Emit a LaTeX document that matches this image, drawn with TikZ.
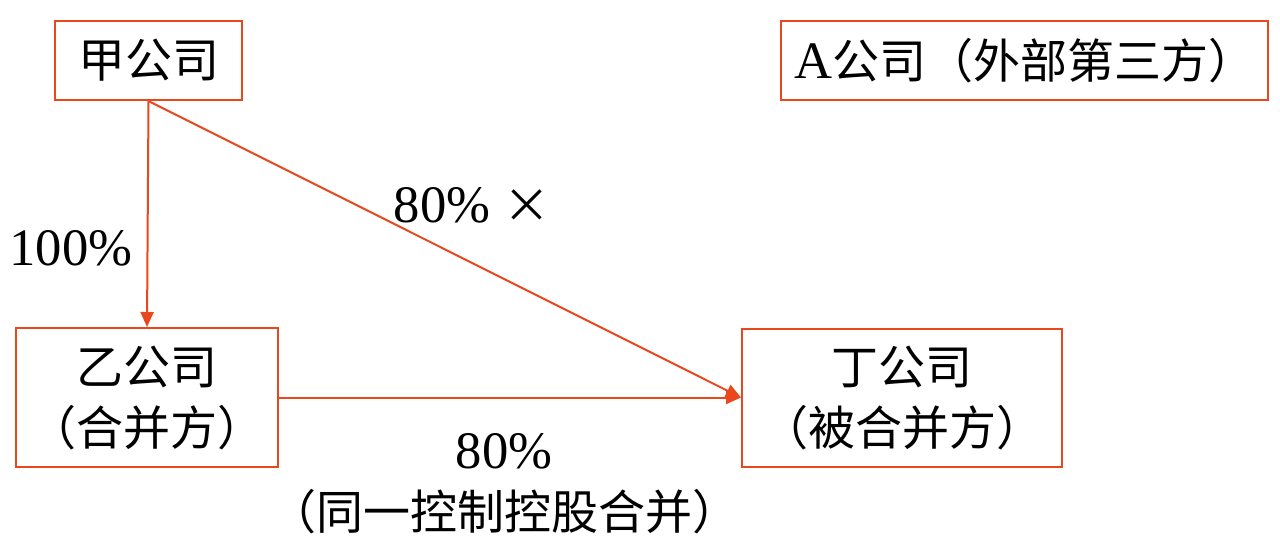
\documentclass[tikz,border=0pt]{standalone}
\usepackage{fontspec}
\setmainfont{Liberation Serif}[Scale=1.12]
\newfontfamily\cjk{Noto Sans CJK SC}
\usetikzlibrary{arrows.meta}
\definecolor{linered}{RGB}{233,72,30}

\begin{document}
\begin{tikzpicture}[x=0.5pt, y=-0.5pt, line width=1pt,
    box/.style={draw=linered, inner sep=0pt, align=center,
      font=\fontsize{23.5pt}{30.5pt}\selectfont},
    lbl/.style={inner sep=0pt, align=center,
      font=\fontsize{23.5pt}{30.5pt}\selectfont},
    arr/.style={draw=linered, -{Triangle[length=7.5pt, width=6.5pt]}}]
  \useasboundingbox (0,0) rectangle (1280,548);

  \node[box, minimum width=93.5pt, minimum height=39.5pt] (jia) at (148.5,60.5) {\cjk 甲公司};
  \node[box, minimum width=243.5pt, minimum height=39.5pt] (acomp) at (1024.5,60.5) {A{\cjk 公司（外部第三方）}};
  \node[box, minimum width=131pt, minimum height=69.5pt] (yi) at (147,397.5) {{\cjk 乙公司}\\{\cjk （合并方）}};
  \node[box, minimum width=160pt, minimum height=69pt] (ding) at (902,397.5) {{\cjk 丁公司}\\{\cjk （被合并方）}};

  \draw[arr] (jia.south) -- (yi.north);
  \draw[arr] (jia.south) -- (ding.west);
  \draw[arr] (yi.east) -- (ding.west);

  \node[lbl] (full) at (71,248) {100\%};
  \node[lbl] (cross) at (472,205) {80\% {\cjk ×}};
  \node[lbl] (ctrl) at (504,484) {80\%\\{\cjk （同一控制控股合并）}};
\end{tikzpicture}
\end{document}
